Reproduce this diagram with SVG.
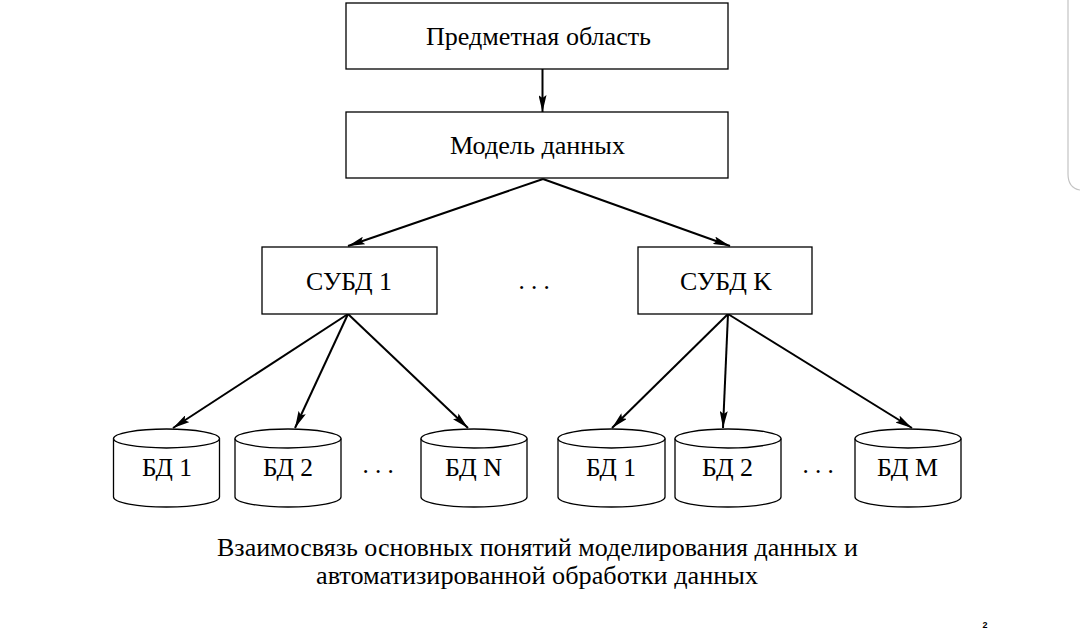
<svg xmlns="http://www.w3.org/2000/svg" width="1080" height="629" viewBox="0 0 1080 629">
<style>
.box{fill:#fff;stroke:#000;stroke-width:1.3}
.cyl{fill:#fff;stroke:#000;stroke-width:1.3}
.t{font-family:"Liberation Serif","Times New Roman",serif;font-size:25px;fill:#000;text-anchor:middle}
.cap{font-family:"Liberation Serif","Times New Roman",serif;font-size:25px;fill:#000;text-anchor:middle}
.c{stroke:#000;stroke-width:2;fill:none;marker-end:url(#ah)}
</style>
<defs>
<marker id="ah" viewBox="0 0 17 8" refX="17" refY="4" markerWidth="17" markerHeight="8" markerUnits="userSpaceOnUse" orient="auto" preserveAspectRatio="none">
<path d="M0,0 L17,4 L0,8 L3,4 z" fill="#000"/>
</marker>
</defs>
<rect width="1080" height="629" fill="#fff"/>
<path d="M1068,0 V174 Q1068,188 1080,190" fill="none" stroke="#c4c4c4" stroke-width="1.2"/>

<g id="connectors">
<line x1="542.5" y1="69" x2="542.5" y2="112" class="c"/>
<line x1="543" y1="179" x2="348" y2="246" class="c"/>
<line x1="543" y1="179" x2="730" y2="246" class="c"/>
<line x1="348" y1="314" x2="173" y2="428" class="c"/>
<line x1="348" y1="314" x2="295" y2="428" class="c"/>
<line x1="348" y1="314" x2="468" y2="428" class="c"/>
<line x1="728" y1="314" x2="612" y2="428" class="c"/>
<line x1="728" y1="314" x2="723" y2="428" class="c"/>
<line x1="728" y1="314" x2="912" y2="428" class="c"/>
</g>

<g id="n-subject">
<rect class="box" x="346" y="3" width="382" height="66"/>
<text class="t" x="538.5" y="45" textLength="225" lengthAdjust="spacingAndGlyphs">Предметная область</text>
</g>
<g id="n-model">
<rect class="box" x="346" y="112" width="382" height="66"/>
<text class="t" x="537.5" y="153.5" textLength="175" lengthAdjust="spacingAndGlyphs">Модель данных</text>
</g>
<g id="n-dbms1">
<rect class="box" x="262" y="247" width="175" height="67"/>
<text class="t" x="349" y="290" textLength="86" lengthAdjust="spacingAndGlyphs">СУБД 1</text>
</g>
<g id="n-dots1"><text class="t" x="534" y="289">. . .</text></g>
<g id="n-dbmsk">
<rect class="box" x="638" y="247" width="174" height="67"/>
<text class="t" x="726" y="290" textLength="92" lengthAdjust="spacingAndGlyphs">СУБД K</text>
</g>

<g id="n-db11">
<path class="cyl" d="M113.5,438.5 V497 A53,10 0 0 0 219.5,497 V438.5"/>
<ellipse class="cyl" cx="166.5" cy="438.5" rx="53" ry="9.5"/>
<text class="t" x="167" y="476" textLength="50" lengthAdjust="spacingAndGlyphs">БД 1</text>
</g>
<g id="n-db12">
<path class="cyl" d="M235,438.5 V497 A53,10 0 0 0 341,497 V438.5"/>
<ellipse class="cyl" cx="288" cy="438.5" rx="53" ry="9.5"/>
<text class="t" x="288" y="476" textLength="50" lengthAdjust="spacingAndGlyphs">БД 2</text>
</g>
<g id="n-dots2"><text class="t" x="378" y="473">. . .</text></g>
<g id="n-db1n">
<path class="cyl" d="M421,438.5 V497 A53,10 0 0 0 527,497 V438.5"/>
<ellipse class="cyl" cx="474" cy="438.5" rx="53" ry="9.5"/>
<text class="t" x="473.5" y="476" textLength="57" lengthAdjust="spacingAndGlyphs">БД N</text>
</g>
<g id="n-db21">
<path class="cyl" d="M558,438.5 V497 A53.5,10 0 0 0 665,497 V438.5"/>
<ellipse class="cyl" cx="611.5" cy="438.5" rx="53.5" ry="9.5"/>
<text class="t" x="611" y="476" textLength="50" lengthAdjust="spacingAndGlyphs">БД 1</text>
</g>
<g id="n-db22">
<path class="cyl" d="M675,438.5 V497 A53,10 0 0 0 781,497 V438.5"/>
<ellipse class="cyl" cx="728" cy="438.5" rx="53" ry="9.5"/>
<text class="t" x="727.5" y="476" textLength="51" lengthAdjust="spacingAndGlyphs">БД 2</text>
</g>
<g id="n-dots3"><text class="t" x="818" y="473">. . .</text></g>
<g id="n-db2m">
<path class="cyl" d="M855,438.5 V497 A53,10 0 0 0 961,497 V438.5"/>
<ellipse class="cyl" cx="908" cy="438.5" rx="53" ry="9.5"/>
<text class="t" x="907.5" y="476" textLength="61" lengthAdjust="spacingAndGlyphs">БД M</text>
</g>

<g id="caption">
<text class="cap" x="537.5" y="556" textLength="641" lengthAdjust="spacingAndGlyphs">Взаимосвязь основных понятий моделирования данных и</text>
<text class="cap" x="537" y="584" textLength="442" lengthAdjust="spacingAndGlyphs">автоматизированной обработки данных</text>
</g>
<text x="985" y="628" font-family="Liberation Sans, Arial, sans-serif" font-size="9" font-weight="bold" text-anchor="middle">2</text>
</svg>
